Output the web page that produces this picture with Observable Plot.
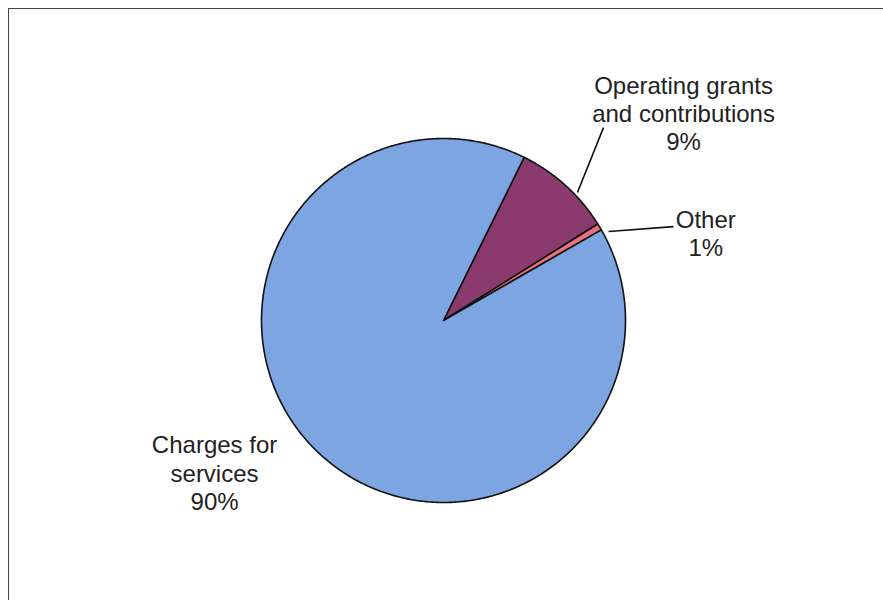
<!DOCTYPE html>
<html>
<head>
<meta charset="utf-8">
<script src="https://cdn.jsdelivr.net/npm/d3@7"></script>
<script src="https://cdn.jsdelivr.net/npm/@observablehq/plot@0.6"></script>
<style>
  html, body { margin: 0; padding: 0; background: #fff; }
  #wrap { position: relative; width: 883px; height: 600px; overflow: hidden; }
  #frame { position: absolute; left: 8px; top: 8px; right: -4px; bottom: -4px;
           border-top: 1.5px solid #444; border-left: 1.5px solid #444; pointer-events: none; }
</style>
</head>
<body>
<div id="wrap"><div id="frame"></div></div>
<script>
// ---- data ----
const categories = ["Operating grants and contributions", "Other", "Charges for services"];
const shares = [8.8, 0.6, 90.6];           // percent of total
const labelText = ["Operating grants\nand contributions\n9%", "Other\n1%", "Charges for\nservices\n90%"];
const colors = ["#8A3A6C", "#E8717C", "#7DA5E2"];
const startAngleDeg = 26.3;                 // first slice starts here, clockwise from 12 o'clock
// label anchor positions (in pie-radius units, origin at pie centre)
const labelX = [1.319, 1.441, -1.258];
const labelY = [1.140, 0.480, -0.835];
// leader lines: [x1, y1, x2, y2] in pie-radius units
const leaders = [[0.879, 1.060, 0.736, 0.703], [0.907, 0.489, 1.264, 0.516]];

// ---- build slice polygons ----
const total = d3.sum(shares);
const slices = [];
let a0 = startAngleDeg * Math.PI / 180;
shares.forEach((v, i) => {
  const a1 = a0 + v / total * 2 * Math.PI;
  const n = Math.max(2, Math.ceil((a1 - a0) / (Math.PI / 360)));
  slices.push({cat: categories[i], x: 0, y: 0});
  for (let k = 0; k <= n; k++) {
    const a = a0 + (a1 - a0) * k / n;
    slices.push({cat: categories[i], x: Math.sin(a), y: Math.cos(a)});
  }
  slices.push({cat: categories[i], x: 0, y: 0});
  a0 = a1;
});
const labels = categories.map((c, i) => ({text: labelText[i], x: labelX[i], y: labelY[i]}));
const leaderData = leaders.map(([x1, y1, x2, y2]) => ({x1, y1, x2, y2}));

const R = 182, cx = 443, cy = 320, W = 883, H = 600;
const chart = Plot.plot({
  width: W, height: H,
  margin: 0,
  x: {domain: [-cx / R, (W - cx) / R], axis: null},
  y: {domain: [-(H - cy) / R, cy / R], axis: null},
  color: {domain: categories, range: colors},
  style: {fontFamily: "'Liberation Sans', Arial, sans-serif", background: "transparent"},
  marks: [
    Plot.line(slices, {x: "x", y: "y", z: "cat", fill: "cat", stroke: "#111", strokeWidth: 1.6, strokeLinejoin: "round", curve: "linear"}),
    Plot.link(leaderData, {x1: "x1", y1: "y1", x2: "x2", y2: "y2", stroke: "#111", strokeWidth: 1.6}),
    Plot.text(labels, {x: "x", y: "y", text: "text", fontSize: 24, lineHeight: 1.18, lineAnchor: "middle", textAnchor: "middle", fill: "#222"})
  ]
});
document.getElementById("wrap").prepend(chart);
chart.style.position = "absolute";
chart.style.left = "0";
chart.style.top = "0";
</script>
</body>
</html>
